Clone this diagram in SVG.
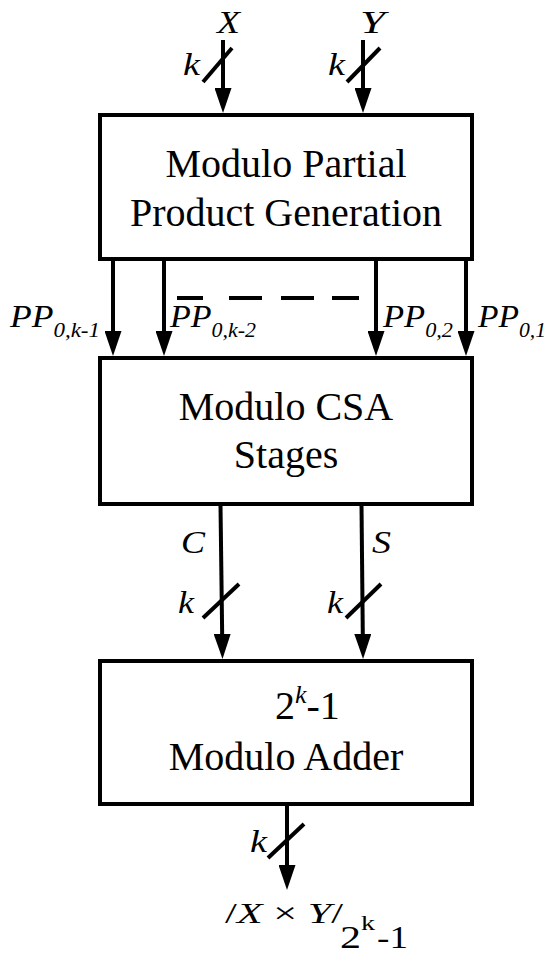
<svg xmlns="http://www.w3.org/2000/svg" width="549" height="954" viewBox="0 0 549 954">
<style>
.box{fill:#fff;stroke:#000;stroke-width:4}
.ln{fill:none;stroke:#000;stroke-width:4}
.arr{fill:none;stroke:#000;stroke-width:4;marker-end:url(#ah)}
text{font-family:"Liberation Serif","Times New Roman",Times,"DejaVu Serif","Noto Serif",serif;fill:#000}
.t{font-size:40px}
.i{font-style:italic}
</style>
<defs>
<marker id="ah" viewBox="0 0 25 17" refX="10" refY="8.5" markerWidth="25" markerHeight="17" markerUnits="userSpaceOnUse" orient="auto">
<path d="M0,0 L25,8.5 L0,17 Z" fill="#000"/>
</marker>
</defs>
<rect width="549" height="954" fill="#fff"/>
<g id="connectors">
<line class="arr" x1="223" y1="40" x2="223" y2="98"/>
<line class="arr" x1="363" y1="40" x2="363" y2="98"/>
<line class="ln" x1="203" y1="82" x2="232" y2="48"/>
<line class="ln" x1="347" y1="82" x2="380" y2="48"/>
<line class="arr" x1="113" y1="260" x2="113" y2="341"/>
<line class="arr" x1="164" y1="260" x2="164" y2="341"/>
<line class="arr" x1="376" y1="260" x2="376" y2="341"/>
<line class="arr" x1="466" y1="260" x2="466" y2="341"/>
<path class="ln" d="M177,298 H203 M229,298 H262 M281,298 H314 M332,298 H359"/>
<line class="arr" x1="220.5" y1="505" x2="222.3" y2="644"/>
<line class="arr" x1="361.5" y1="505" x2="362.9" y2="644"/>
<line class="ln" x1="203" y1="618" x2="239" y2="584"/>
<line class="ln" x1="346" y1="618" x2="381" y2="584"/>
<line class="arr" x1="287" y1="805" x2="287" y2="875"/>
<line class="ln" x1="268" y1="858" x2="304" y2="824"/>
</g>
<g id="labels">
<text class="i" x="217" y="33" font-size="31" textLength="23" lengthAdjust="spacingAndGlyphs">X</text>
<text class="i" x="360" y="33" font-size="31" textLength="25" lengthAdjust="spacingAndGlyphs">Y</text>
<text class="i" x="183" y="75" font-size="31" textLength="17" lengthAdjust="spacingAndGlyphs">k</text>
<text class="i" x="328" y="75" font-size="31" textLength="17" lengthAdjust="spacingAndGlyphs">k</text>
<text class="i" x="10" y="327" font-size="31" textLength="90" lengthAdjust="spacingAndGlyphs">PP<tspan font-size="20" dy="10">0,k-1</tspan></text>
<text class="i" x="170" y="327" font-size="31" textLength="86" lengthAdjust="spacingAndGlyphs">PP<tspan font-size="20" dy="10">0,k-2</tspan></text>
<text class="i" x="383" y="327" font-size="31" textLength="70" lengthAdjust="spacingAndGlyphs">PP<tspan font-size="20" dy="10">0,2</tspan></text>
<text class="i" x="478" y="327" font-size="31" textLength="68" lengthAdjust="spacingAndGlyphs">PP<tspan font-size="20" dy="10">0,1</tspan></text>
<text class="i" x="181" y="553" font-size="32" textLength="24" lengthAdjust="spacingAndGlyphs">C</text>
<text class="i" x="372" y="553" font-size="32" textLength="19" lengthAdjust="spacingAndGlyphs">S</text>
<text class="i" x="178" y="613" font-size="31" textLength="16" lengthAdjust="spacingAndGlyphs">k</text>
<text class="i" x="327" y="613" font-size="31" textLength="16" lengthAdjust="spacingAndGlyphs">k</text>
<text class="i" x="250" y="852" font-size="31" textLength="17" lengthAdjust="spacingAndGlyphs">k</text>
<text x="225" y="923" font-size="29" textLength="118" lengthAdjust="spacingAndGlyphs">/<tspan class="i">X</tspan> × <tspan class="i">Y</tspan>/</text>
<text x="340" y="948" font-size="31" textLength="21" lengthAdjust="spacingAndGlyphs">2</text>
<text x="361" y="930" font-size="20" textLength="14" lengthAdjust="spacingAndGlyphs">k</text>
<text x="377" y="948" font-size="31" textLength="31" lengthAdjust="spacingAndGlyphs">-1</text>
</g>
<g id="ppg">
<rect class="box" x="100" y="115" width="372" height="144"/>
<text class="t" x="286" y="177" text-anchor="middle">Modulo Partial</text>
<text class="t" x="286" y="226" text-anchor="middle">Product Generation</text>
</g>
<g id="csa">
<rect class="box" x="100" y="358" width="372" height="146"/>
<text class="t" x="286" y="420" text-anchor="middle">Modulo CSA</text>
<text class="t" x="286" y="468" text-anchor="middle">Stages</text>
</g>
<g id="adder">
<rect class="box" x="100" y="661" width="372" height="143"/>
<text class="t" x="275" y="719">2<tspan class="i" font-size="26" dy="-16">k</tspan><tspan dy="16">-1</tspan></text>
<text class="t" x="286" y="770" text-anchor="middle">Modulo Adder</text>
</g>
</svg>
